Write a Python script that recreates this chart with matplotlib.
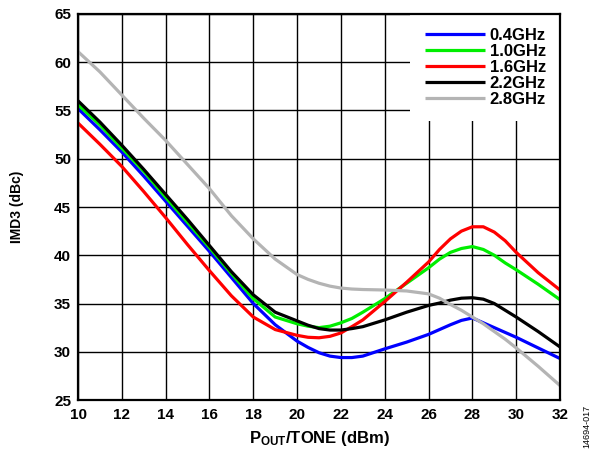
import matplotlib
matplotlib.use("Agg")
import matplotlib.pyplot as plt

plt.rcParams['font.family'] = ['Liberation Sans', 'DejaVu Sans']
plt.rcParams['mathtext.fontset'] = 'custom'
plt.rcParams['mathtext.rm'] = 'Liberation Sans:bold'
plt.rcParams['mathtext.bf'] = 'Liberation Sans:bold'
plt.rcParams['mathtext.it'] = 'Liberation Sans:bold'

pout = [10, 11, 12, 13, 14, 15, 16, 17, 18, 19, 20, 20.5, 21, 21.5, 22, 22.5, 23,
        24, 25, 26, 26.5, 27, 27.5, 28, 28.5, 29, 29.5, 30, 31, 32]
imd3_04 = [55.2, 53.0, 50.7, 48.2, 45.6, 43.0, 40.4, 37.7, 35.0, 32.8, 31.1, 30.45, 29.9,
           29.55, 29.4, 29.4, 29.55, 30.3, 31.0, 31.8, 32.3, 32.8, 33.25, 33.5, 33.0, 32.5,
           32.0, 31.5, 30.4, 29.3]
imd3_10 = [55.6, 53.5, 51.1, 48.7, 46.0, 43.4, 40.8, 38.1, 35.5, 33.6, 32.9, 32.65, 32.5,
           32.65, 33.0, 33.45, 34.1, 35.5, 37.1, 38.7, 39.6, 40.3, 40.7, 40.9, 40.6, 40.0,
           39.2, 38.5, 37.0, 35.4]
imd3_16 = [53.7, 51.5, 49.2, 46.6, 43.9, 41.1, 38.4, 35.8, 33.6, 32.3, 31.7, 31.5, 31.45,
           31.6, 31.95, 32.6, 33.3, 35.2, 37.2, 39.3, 40.6, 41.7, 42.5, 42.95, 42.95, 42.4,
           41.5, 40.3, 38.2, 36.4]
imd3_22 = [56.0, 53.8, 51.4, 48.9, 46.3, 43.7, 41.0, 38.3, 35.9, 34.1, 33.2, 32.75, 32.4,
           32.25, 32.25, 32.4, 32.6, 33.3, 34.1, 34.8, 35.05, 35.35, 35.55, 35.6, 35.45,
           35.0, 34.3, 33.6, 32.1, 30.5]
imd3_28 = [61.1, 59.0, 56.6, 54.2, 51.9, 49.4, 46.9, 44.1, 41.7, 39.6, 38.0, 37.5, 37.1,
           36.8, 36.6, 36.5, 36.45, 36.4, 36.3, 36.0, 35.55, 34.9, 34.3, 33.6, 32.9, 32.1,
           31.3, 30.4, 28.5, 26.5]

labels = ['0.4GHz', '1.0GHz', '1.6GHz', '2.2GHz', '2.8GHz']
colors = ['#0000ff', '#00ee00', '#ff0000', '#000000', '#b4b4b4']
series = [imd3_04, imd3_10, imd3_16, imd3_22, imd3_28]

xticks = list(range(10, 33, 2))
yticks = list(range(25, 66, 5))

fig = plt.figure(figsize=(5.96, 4.54), dpi=100)
ax = fig.add_axes([0.1309, 0.1189, 0.8087, 0.8503])

for y, c, lab in zip(series, colors, labels):
    ax.plot(pout, y, color=c, lw=2.3, label=lab, solid_joinstyle='round',
            solid_capstyle='butt', zorder=3)

ax.set_xlim(10, 32)
ax.set_ylim(25, 65)
ax.set_xticks(xticks)
ax.set_yticks(yticks)
ax.tick_params(length=0, labelsize=11)
ax.tick_params(axis='x', pad=6)
ax.tick_params(axis='y', pad=5)
for lbl in ax.get_xticklabels() + ax.get_yticklabels():
    lbl.set_fontweight('bold')
ax.grid(True, color='black', lw=1.0)
for s in ax.spines.values():
    s.set_linewidth(1.6)
    s.set_zorder(6)

ax.set_xlabel(r'P$_{\mathrm{OUT}}$/TONE (dBm)', fontsize=12, fontweight='bold', labelpad=5)
ax.set_ylabel('IMD3 (dBc)', fontsize=10, fontweight='bold', labelpad=22)

leg = ax.legend(loc='upper right', bbox_to_anchor=(1.0, 1.0), borderaxespad=0.0,
                prop={'weight': 'bold', 'size': 12},
                handlelength=3.65, handletextpad=0.25, labelspacing=0.06,
                frameon=True, fancybox=False, framealpha=1, borderpad=0.85)
leg.get_frame().set_edgecolor('white')
leg.get_frame().set_linewidth(0)

fig.text(0.993, 0.06, '14694-017', rotation=90, fontsize=6.5, ha='right', va='center')

fig.savefig('out.png', dpi=100)
